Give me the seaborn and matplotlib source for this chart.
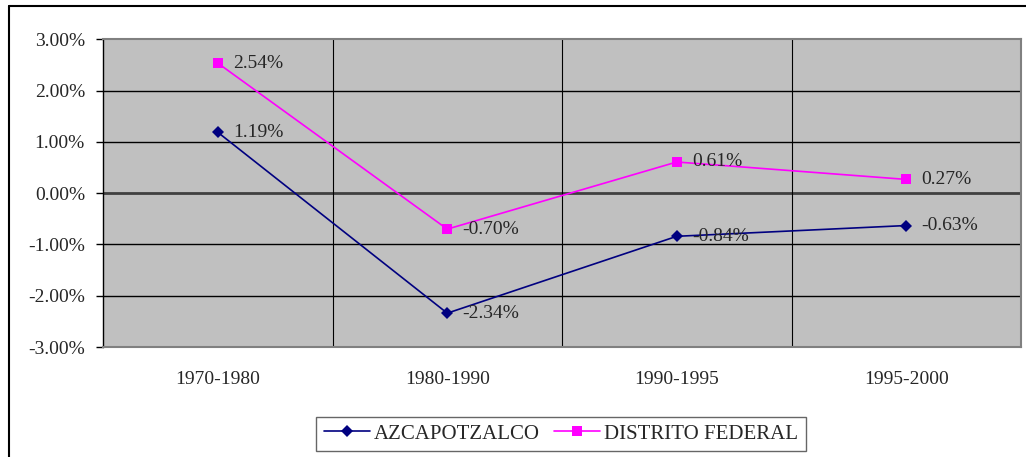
import pandas as pd
import seaborn as sns
import matplotlib.pyplot as plt
from matplotlib.lines import Line2D
from matplotlib.ticker import FuncFormatter, FixedLocator

# Données
periodes = ["1970-1980", "1980-1990", "1990-1995", "1995-2000"]
azcapotzalco = [1.19, -2.34, -0.84, -0.63]
distrito_federal = [2.54, -0.70, 0.61, 0.27]
series = ["AZCAPOTZALCO", "DISTRITO FEDERAL"]

df = pd.DataFrame({
    "x": list(range(len(periodes))) * 2,
    "valeur": azcapotzalco + distrito_federal,
    "serie": [series[0]] * len(periodes) + [series[1]] * len(periodes),
})

sns.set_style("white")
plt.rcParams["font.family"] = ["Liberation Serif", "DejaVu Serif"]

fig = plt.figure(figsize=(10.26, 4.57), dpi=100)
ax = fig.add_axes([103 / 1026, 1 - 347 / 457, 918 / 1026, 307.5 / 457])
ax.set_facecolor("#c0c0c0")

couleurs = {"AZCAPOTZALCO": "#000080", "DISTRITO FEDERAL": "#ff00ff"}
marqueurs = {"AZCAPOTZALCO": "D", "DISTRITO FEDERAL": "s"}
sns.lineplot(data=df, x="x", y="valeur", hue="serie", style="serie",
             palette=couleurs, markers=marqueurs, dashes=False,
             markersize=6.5, linewidth=1.2, markeredgewidth=0, ax=ax,
             legend=False, zorder=3)

# Axes
ax.set_xlim(-0.5, 3.5)
ax.set_ylim(-3, 3)
ax.set_yticks([-3, -2, -1, 0, 1, 2, 3])
ax.yaxis.set_major_formatter(FuncFormatter(lambda v, p: f"{v:.2f}%"))
ax.set_xticks(range(len(periodes)))
ax.set_xticklabels(periodes)
ax.xaxis.set_minor_locator(FixedLocator([-0.5, 0.5, 1.5, 2.5, 3.5]))
ax.tick_params(axis="x", which="major", length=0, pad=17, labelsize=14)
ax.tick_params(axis="x", which="minor", length=0)
ax.tick_params(axis="y", length=5, width=1, color="black", left=True, pad=8, labelsize=14)
ax.set_xlabel("")
ax.set_ylabel("")

for v in [-2, -1, 1, 2]:
    ax.axhline(v, color="black", linewidth=1, zorder=1)
ax.axhline(0, color="#404040", linewidth=2, zorder=1)
for v in [0.5, 1.5, 2.5]:
    ax.axvline(v, color="black", linewidth=0.8, zorder=1)

for s in ax.spines.values():
    s.set_color("#808080")
    s.set_linewidth(1.5)
ax.spines["left"].set_color("black")
ax.spines["left"].set_linewidth(1)

# Étiquettes de données
for vals in [azcapotzalco, distrito_federal]:
    for i, v in enumerate(vals):
        ax.annotate(f"{v:.2f}%", (i, v), xytext=(11, 0), textcoords="offset points",
                    va="center", ha="left", fontsize=14, zorder=4)

# Légende
handles = [Line2D([], [], color=couleurs[s], marker=marqueurs[s], markersize=6.5,
                  markeredgewidth=0, linewidth=1.2) for s in series]
leg = fig.legend(handles, series, loc="center", bbox_to_anchor=(561 / 1026, 1 - 434 / 457),
                 ncol=2, frameon=True, fancybox=False, fontsize=15,
                 handlelength=2.2, columnspacing=0.7, handletextpad=0.2,
                 borderpad=0.35, borderaxespad=0)
leg.get_frame().set_edgecolor("#404040")
leg.get_frame().set_linewidth(1)

# Cadre extérieur
fig.add_artist(Line2D([9 / 1026, 9 / 1026], [0, 1 - 5.5 / 457], color="black", linewidth=1.5,
                      transform=fig.transFigure))
fig.add_artist(Line2D([9 / 1026, 1], [1 - 5.5 / 457, 1 - 5.5 / 457], color="black", linewidth=1.5,
                      transform=fig.transFigure))

plt.savefig("out.png", dpi=100)
